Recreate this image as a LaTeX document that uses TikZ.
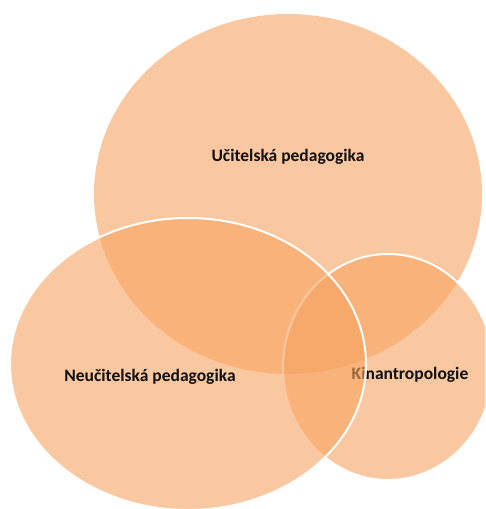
\documentclass[tikz,border=0pt]{standalone}
\usepackage{fontspec}
\setmainfont{Carlito}
\definecolor{vennorange}{RGB}{247,163,97}
\definecolor{labeltext}{RGB}{15,15,15}
\tikzset{
  vennset/.style={fill=vennorange, fill opacity=0.6},
  vennborder/.style={draw=white, line width=2pt},
  venntext/.style={font=\fontsize{17.5}{20}\selectfont\bfseries, text=labeltext, inner sep=0pt},
}
\begin{document}
\begin{tikzpicture}[x=1pt,y=-1pt]
\useasboundingbox (0,0) rectangle (485,509);
\clip (0,0) rectangle (485,509);
% top ellipse
\fill[vennset] (288,194) ellipse [x radius=194, y radius=180];
\node[venntext] (ucit) at (288,157) {Učitelská pedagogika};
% right circle
\path[vennset, vennborder] (388,367) ellipse [x radius=105, y radius=113];
\node[venntext] (kin) at (410,375) {Kinantropologie};
% left ellipse
\path[vennset, vennborder] (188,364) ellipse [x radius=178, y radius=146];
\node[venntext] (neuc) at (150,377) {Neučitelská pedagogika};
\end{tikzpicture}
\end{document}
